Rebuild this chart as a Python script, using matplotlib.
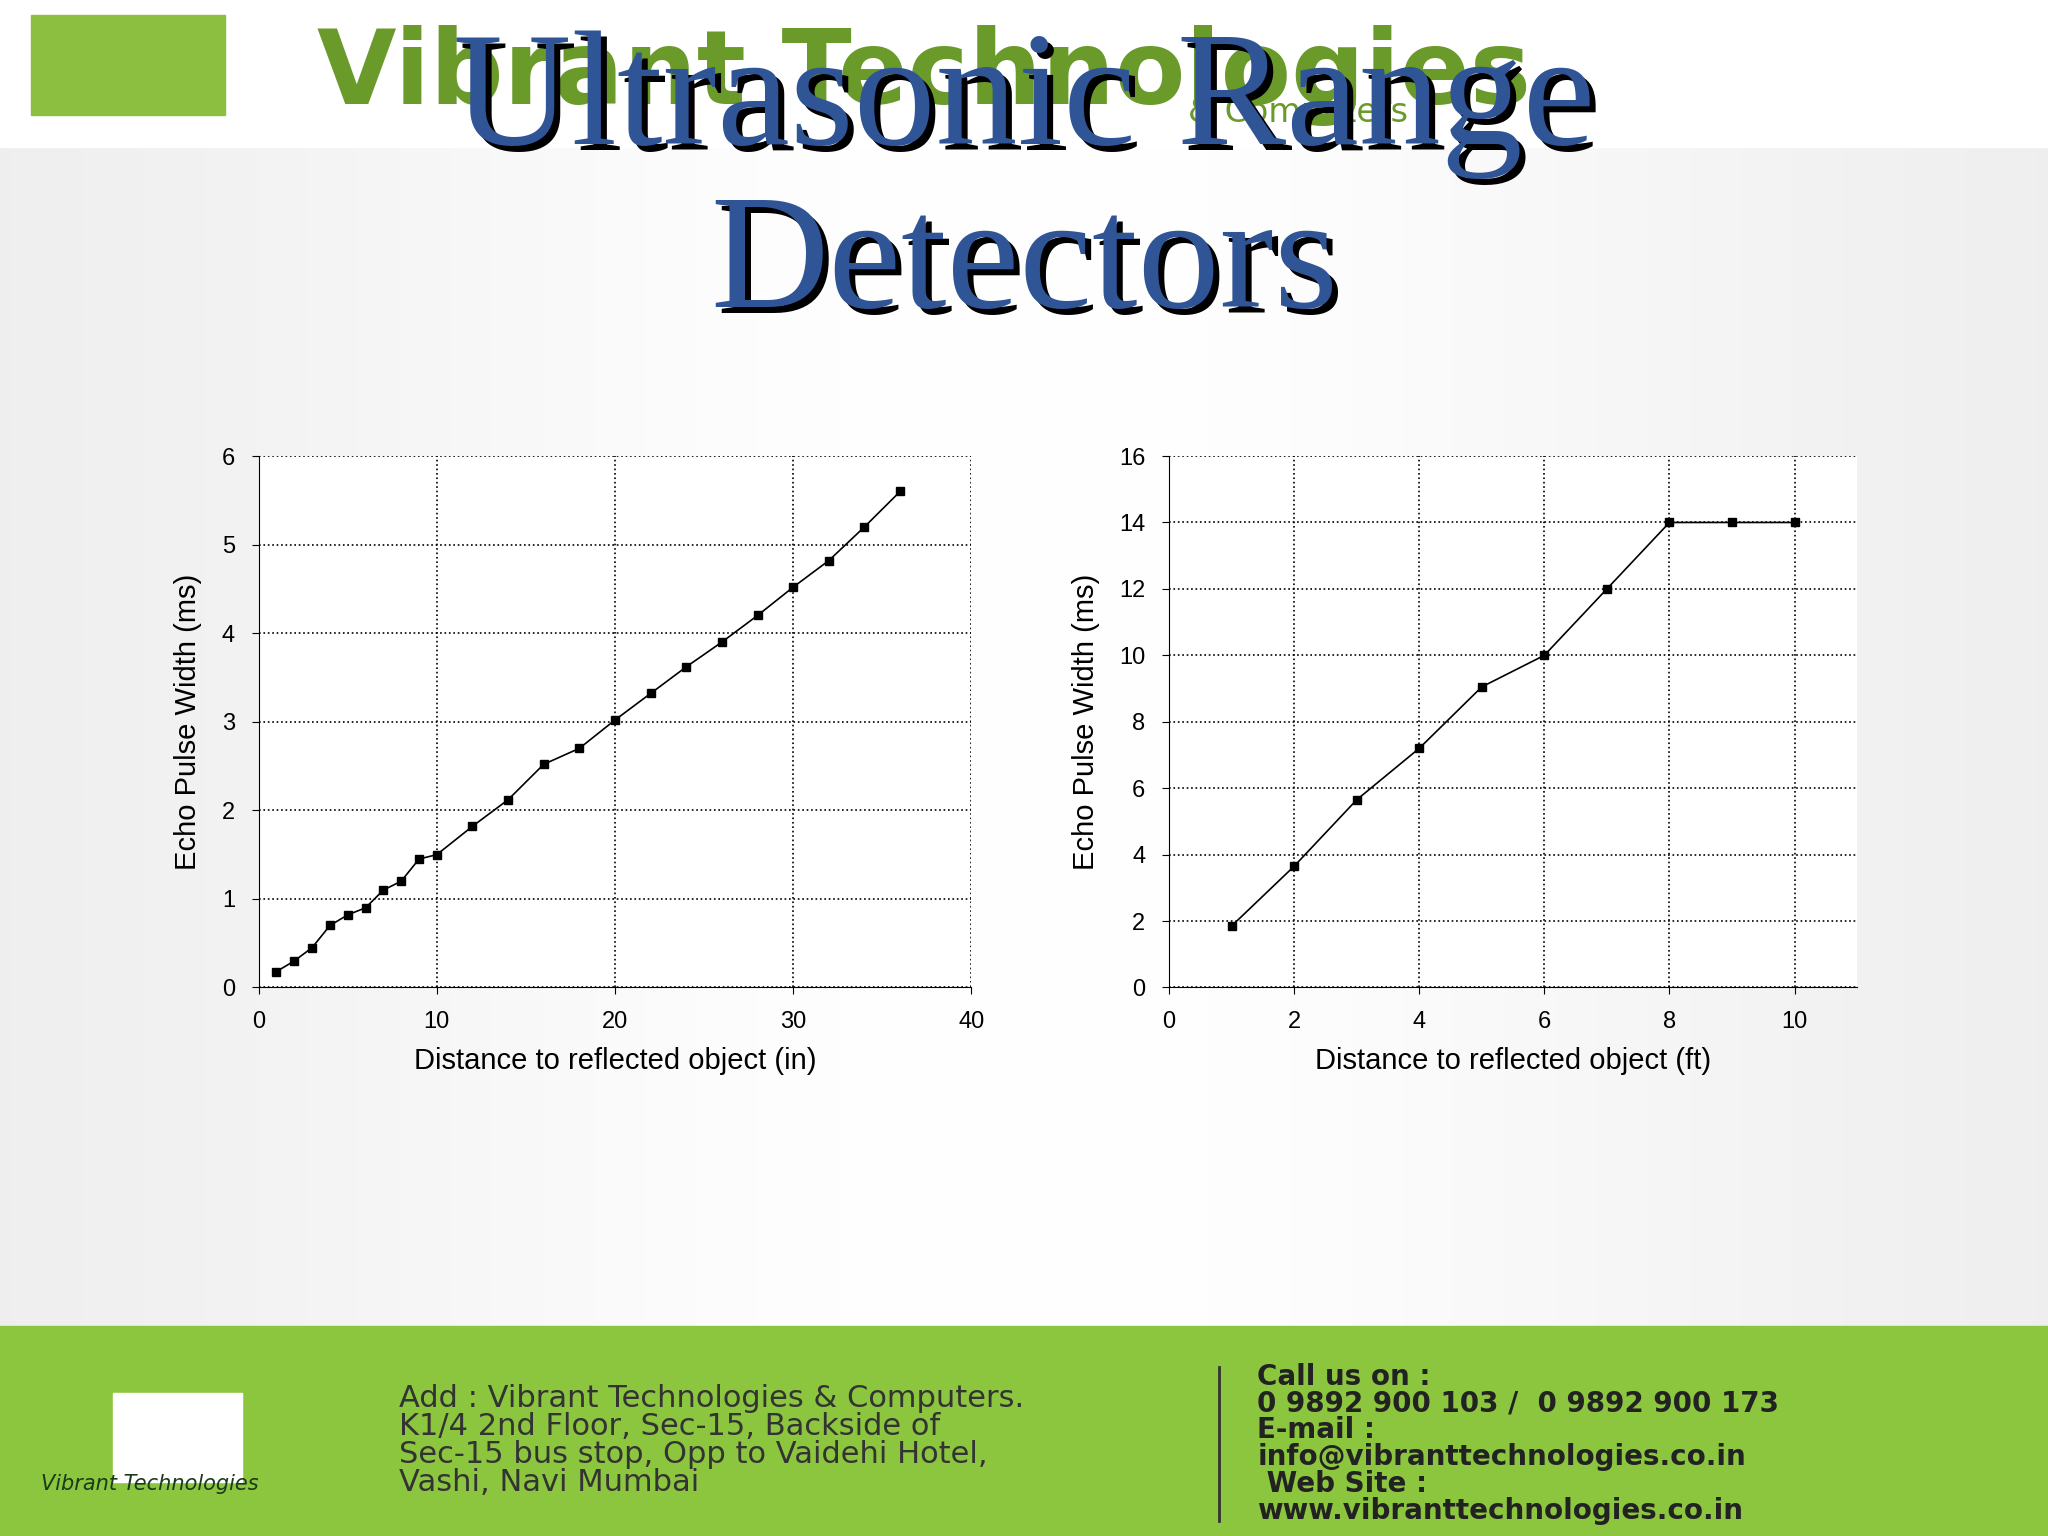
import matplotlib
matplotlib.use("Agg")
import matplotlib.pyplot as plt
import numpy as np

dist_in = [1,2,3,4,5,6,7,8,9,10,12,14,16,18,20,22,24,26,28,30,32,34,36]
echo_in = [0.18,0.3,0.45,0.7,0.82,0.9,1.1,1.2,1.45,1.5,1.82,2.12,2.52,2.7,3.02,3.32,3.62,3.9,4.2,4.52,4.82,5.2,5.6]
dist_ft = [1,2,3,4,5,6,7,8,9,10]
echo_ft = [1.85,3.65,5.65,7.2,9.05,10.0,12.0,14.0,14.0,14.0]

SANS = ['Liberation Sans', 'DejaVu Sans']

fig = plt.figure(figsize=(20.48,15.36), dpi=100)
bg = fig.add_axes([0,0,1,1]); bg.set_axis_off()
g = np.linspace(0,1,200)
grad = 0.92 + 0.08*np.exp(-((g-0.5)/0.4)**2)
img = np.tile(grad,(50,1))
bg.imshow(np.dstack([img,img,img]), extent=[0,1,0,1], aspect='auto')
bg.set_xlim(0,1); bg.set_ylim(0,1)
bg.add_patch(plt.Rectangle((0,0.904),1,0.096,color='white'))
bg.add_patch(plt.Rectangle((0.015,0.925),0.095,0.065,color='#8cbf3f'))
bg.text(0.155,0.951,"Vibrant Technologies",fontsize=74,fontweight='bold',color='#6a9a2a',va='center',family='DejaVu Sans')
bg.text(0.58,0.927,"& Computers",fontsize=24,color='#6a9a2a',va='center')
bg.add_patch(plt.Rectangle((0,0),1,0.137,color='#8cc63f'))
bg.add_patch(plt.Rectangle((0.055,0.035),0.063,0.058,color='white'))
bg.text(0.02,0.03,"Vibrant Technologies",fontsize=15,style='italic',color='#1a3a1a')
bg.text(0.195,0.062,"Add : Vibrant Technologies & Computers.\nK1/4 2nd Floor, Sec-15, Backside of\nSec-15 bus stop, Opp to Vaidehi Hotel,\nVashi, Navi Mumbai",fontsize=22,color='#333333',va='center',linespacing=0.95)
bg.plot([0.595,0.595],[0.01,0.11],color='#333333',lw=2)
bg.text(0.614,0.06,"Call us on :\n0 9892 900 103 /  0 9892 900 173\nE-mail :\ninfo@vibranttechnologies.co.in\n Web Site :\nwww.vibranttechnologies.co.in",fontsize=20,fontweight='bold',color='#222222',va='center',linespacing=0.95)
for txt,y in [("Ultrasonic Range",0.932),("Detectors",0.826)]:
    bg.text(0.503,y-0.004,txt,fontsize=118,family='Liberation Serif',color='black',ha='center',va='center')
    bg.text(0.5,y,txt,fontsize=118,family='Liberation Serif',color='#2f5597',ha='center',va='center')

def style(ax):
    ax.set_facecolor('white')
    ax.grid(True, linestyle=':', color='black', lw=1.2)
    for s in ['top','right']: ax.spines[s].set_visible(False)
    ax.tick_params(labelsize=17, direction='out', length=5, pad=12)
    for t in ax.get_xticklabels()+ax.get_yticklabels(): t.set_family(SANS)

for pos, x, y, xl, ylim, xt, yt, xlab in [
        ([0.1263,0.3571,0.348,0.346], dist_in, echo_in, (0,40), (0,6), [0,10,20,30,40], range(0,7), "Distance to reflected object (in)"),
        ([0.5708,0.3571,0.336,0.346], dist_ft, echo_ft, (0,11), (0,16), [0,2,4,6,8,10], range(0,17,2), "Distance to reflected object (ft)")]:
    ax = fig.add_axes(pos)
    ax.plot(x, y, color='black', lw=1.2, marker='s', ms=6)
    ax.set_xlim(*xl); ax.set_ylim(*ylim)
    ax.set_xticks(xt); ax.set_yticks(list(yt))
    ax.set_xlabel(xlab, fontsize=21, labelpad=10, family=SANS)
    ax.set_ylabel("Echo Pulse Width (ms)", fontsize=21, labelpad=14, family=SANS)
    style(ax)

fig.savefig("out.png", dpi=100)
